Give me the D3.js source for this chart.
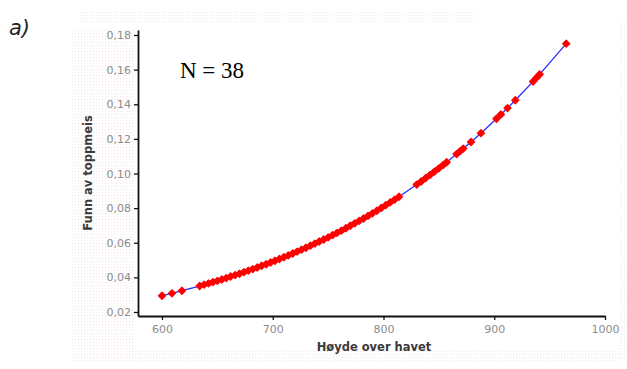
<!DOCTYPE html>
<html>
<head>
<meta charset="utf-8">
<script src="https://cdn.jsdelivr.net/npm/d3@7"></script>
<style>
  html, body { margin: 0; padding: 0; background: #fff; }
  svg { display: block; }
  .tick text { font-family: "DejaVu Sans", Verdana, sans-serif; font-size: 11px; fill: #8c8c8c; }
</style>
</head>
<body>
<svg id="chart" width="627" height="369"></svg>
<script>
// Elevation (m a.s.l.) of each fitted observation
const hoyde = [
  600, 609, 618,
  634, 638, 642, 646, 650, 654, 658, 662, 666, 670, 674, 678, 682, 686, 690, 694,
  698, 702, 706, 710, 714, 718, 722, 726, 730, 734, 738, 742, 746, 750, 754, 758,
  762, 766, 770, 774, 778, 782, 786, 790, 794, 798, 802, 806, 810, 814,
  830, 834, 838, 842, 846, 850, 854, 857,
  866, 869, 872, 879, 888, 902, 906, 912, 919,
  935, 938, 941, 965
];
// Fitted probability of finding the species at each elevation
const funn = [
  0.0294, 0.0308, 0.0323,
  0.0350, 0.0358, 0.0365, 0.0373, 0.0380, 0.0388, 0.0396, 0.0405, 0.0413, 0.0421, 0.0430, 0.0439, 0.0448, 0.0457, 0.0467, 0.0476,
  0.0486, 0.0496, 0.0506, 0.0516, 0.0527, 0.0538, 0.0549, 0.0560, 0.0571, 0.0583, 0.0595, 0.0607, 0.0619, 0.0631, 0.0644, 0.0657,
  0.0670, 0.0684, 0.0698, 0.0712, 0.0726, 0.0740, 0.0755, 0.0770, 0.0785, 0.0801, 0.0817, 0.0833, 0.0849, 0.0866,
  0.0936, 0.0954, 0.0973, 0.0992, 0.1011, 0.1030, 0.1050, 0.1065,
  0.1112, 0.1128, 0.1144, 0.1182, 0.1233, 0.1316, 0.1341, 0.1378, 0.1423,
  0.1531, 0.1552, 0.1573, 0.1750
];
const xTicks = [600, 700, 800, 900, 1000];
const yTicks = [0.02, 0.04, 0.06, 0.08, 0.10, 0.12, 0.14, 0.16, 0.18];
const sampleSize = 38;
const panelLabel = "a)";
const xTitle = "Høyde over havet";
const yTitle = "Funn av toppmeis";

const svg = d3.select("#chart");

// faint dotted haze around the plot frame
const defs = svg.append("defs");
const pat = defs.append("pattern")
  .attr("id", "dots").attr("width", 3).attr("height", 3)
  .attr("patternUnits", "userSpaceOnUse");
pat.append("rect").attr("x", 0).attr("y", 0).attr("width", 1.2).attr("height", 1.2)
  .attr("fill", "#e9b9b9");
const haze = svg.append("g").attr("opacity", 0.3);
[[72, 28, 62, 334], [80, 10, 395, 12], [75, 350, 545, 12], [619, 20, 8, 340]]
  .forEach(([x, y, w, h]) => haze.append("rect")
    .attr("x", x).attr("y", y).attr("width", w).attr("height", h)
    .attr("fill", "url(#dots)"));

const x = d3.scaleLinear().domain([578.33, 1000]).range([138, 605]);
const y = d3.scaleLinear().domain([0.01769, 0.18289]).range([316, 30]);

const fmt = v => d3.format(".2f")(v).replace(".", ",");

// axes
const gx = svg.append("g").attr("transform", "translate(0,316)")
  .call(d3.axisBottom(x).tickValues(xTicks).tickSize(4).tickSizeOuter(0).tickPadding(5)
    .tickFormat(d3.format("d")));
const gy = svg.append("g").attr("transform", "translate(138,0)")
  .call(d3.axisLeft(y).tickValues(yTicks).tickSize(4).tickSizeOuter(0).tickPadding(3)
    .tickFormat(fmt));
[gx, gy].forEach(g => {
  g.select(".domain").attr("stroke", "#111").attr("stroke-width", 1.8);
  g.selectAll(".tick line").attr("stroke", "#111").attr("stroke-width", 1.3);
});

// axis titles
svg.append("text")
  .attr("x", 374).attr("y", 351)
  .attr("text-anchor", "middle")
  .attr("font-family", "'DejaVu Sans', Verdana, sans-serif")
  .attr("font-size", 11.5).attr("font-weight", "bold").attr("fill", "#3a3a3a")
  .text(xTitle);
svg.append("text")
  .attr("transform", "translate(92,173) rotate(-90)")
  .attr("text-anchor", "middle")
  .attr("font-family", "'DejaVu Sans', Verdana, sans-serif")
  .attr("font-size", 11.5).attr("font-weight", "bold").attr("fill", "#3a3a3a")
  .text(yTitle);

// connecting line
const pts = hoyde.map((h, i) => [h, funn[i]]);
svg.append("path")
  .datum(pts)
  .attr("fill", "none")
  .attr("stroke", "#2a2aff")
  .attr("stroke-width", 1.3)
  .attr("d", d3.line().x(d => x(d[0])).y(d => y(d[1])));

// markers
const sym = d3.symbol().type(d3.symbolDiamond2).size(30);
svg.append("g").selectAll("path")
  .data(pts)
  .join("path")
  .attr("transform", d => `translate(${x(d[0])},${y(d[1])})`)
  .attr("d", sym)
  .attr("fill", "#ff0000")
  .attr("stroke", "#ff0000")
  .attr("stroke-width", 1.4)
  .attr("stroke-linejoin", "round");

// sample size note
svg.append("text")
  .attr("x", 180).attr("y", 78)
  .attr("font-family", "'Liberation Serif', 'DejaVu Serif', serif")
  .attr("font-size", 23).attr("fill", "#000")
  .text(`N = ${sampleSize}`);

// panel label
svg.append("text")
  .attr("x", 9).attr("y", 35)
  .attr("font-family", "'DejaVu Sans', sans-serif")
  .attr("font-style", "italic")
  .attr("font-size", 21).attr("fill", "#222")
  .text(panelLabel);
</script>
</body>
</html>
